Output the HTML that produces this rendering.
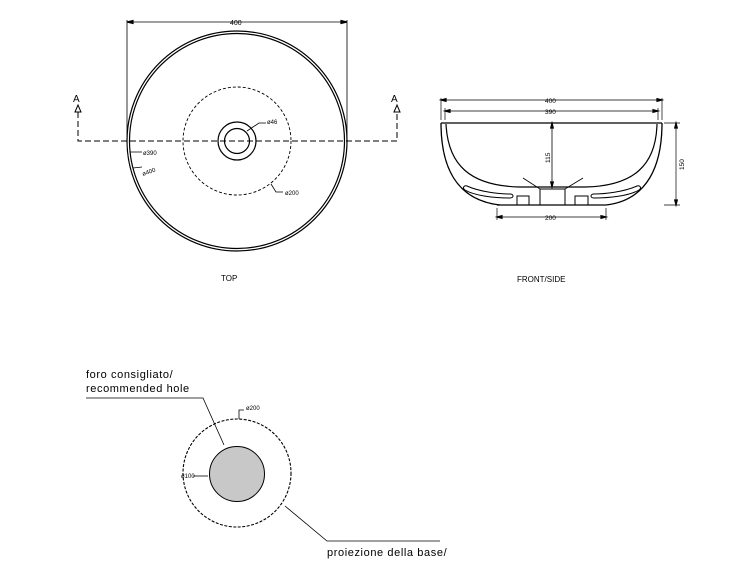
<!DOCTYPE html>
<html><head><meta charset="utf-8"><style>
html,body{margin:0;padding:0;background:#fff;}
svg{display:block;}
text{font-family:"Liberation Sans",sans-serif;fill:#000;}
</style></head><body>
<svg width="750" height="563" viewBox="0 0 750 563" xmlns="http://www.w3.org/2000/svg">
<g fill="none" stroke="#000" stroke-width="1.2">
<circle cx="237" cy="141" r="110"/>
<circle cx="237" cy="141" r="107.5"/>
<circle cx="237" cy="141" r="54" stroke-dasharray="3,2" stroke-width="0.9"/>
<circle cx="237" cy="141" r="19"/>
<circle cx="237" cy="141" r="12.5"/>
<path d="M78,112 V141 H397 V112" stroke-dasharray="6,3" stroke-width="1"/>
<path d="M75,112 L78,105 L81,112 Z" stroke-width="1"/>
<path d="M394,112 L397,105 L400,112 Z" stroke-width="1"/>
<path d="M127,20 V141 M347,20 V141" stroke-width="0.8"/>
<path d="M127,22 H347" stroke-width="0.8"/>
<path d="M127,22 l6,-1.5 v3 z M347,22 l-6,-1.5 v3 z" fill="#000"/>
<path d="M247,131 L259,123 H266" stroke-width="0.8"/>
<path d="M130,152 H142 M133,168 L142,167" stroke-width="0.8"/>
<path d="M271,184 L276,192 H283" stroke-width="0.8"/>
<path d="M441,123 H662" stroke-width="1.3"/>
<path d="M441,123 C441,165 455,200 500,205 M662,123 C662,165 648,200 606,205" stroke-width="1.3"/>
<path d="M446,124 C448,165 470,186 520,187 H585 C634,186 656,165 657,124" stroke-width="1.2"/>
<path d="M497,205 H606" stroke-width="1.3"/>
<path d="M467,186 C480,192 500,194 510,194 C514,194 514,198 510,198 C495,198 475,196 465,190 C462,188 464,185 467,186 Z" stroke-width="1"/>
<path d="M637,186 C624,192 604,194 594,194 C590,194 590,198 594,198 C609,198 629,196 639,190 C642,188 640,185 637,186 Z" stroke-width="1"/>
<path d="M517,205 V196 H529 V205 M540,205 V189 H565 V205 M575,205 V196 H588 V205" stroke-width="1"/>
<path d="M523,178 L540,189 M583,178 L565,189" stroke-width="0.8"/>
<path d="M441,98 V120 M662,98 V120 M445,108 V120 M658,108 V120" stroke-width="0.7"/>
<path d="M441,100 H662 M445,111 H658" stroke-width="0.7"/>
<path d="M441,100 l5,-1.3 v2.6z M662,100 l-5,-1.3 v2.6z M445,111 l5,-1.3 v2.6z M658,111 l-5,-1.3 v2.6z" fill="#000"/>
<path d="M552,123 V187" stroke-width="0.8"/>
<path d="M552,187 l-1.3,-5 h2.6z M552,123 l-1.3,5 h2.6z" fill="#000"/>
<path d="M664,123 H680 M664,205 H680 M676,123 V205" stroke-width="0.7"/>
<path d="M676,123 l-1.3,5 h2.6z M676,205 l-1.3,-5 h2.6z" fill="#000"/>
<path d="M497,208 V220 M606,208 V220 M497,217 H606" stroke-width="0.7"/>
<path d="M497,217 l5,-1.3 v2.6z M606,217 l-5,-1.3 v2.6z" fill="#000"/>
<circle cx="237" cy="473" r="54" stroke-dasharray="3,1.5" stroke-width="1.1"/>
<circle cx="237" cy="474" r="27.5" fill="#c8c8c8" stroke-width="1"/>
<path d="M86,398 H203 L224,445" stroke-width="0.8"/>
<path d="M239,419 V410 H244" stroke-width="0.8"/>
<path d="M193,476 H208" stroke-width="0.8"/>
<path d="M285,506 L327,541 H440" stroke-width="0.8"/>
</g>
<g font-size="6">
<text x="230" y="25" font-size="7">400</text>
<text x="267" y="124">ø46</text>
<text x="143" y="155">ø390</text>
<text x="143" y="176" transform="rotate(-20 143 176)">ø400</text>
<text x="285" y="195">ø200</text>
<text x="545" y="103" font-size="6.5">400</text>
<text x="545" y="114" font-size="6.5">390</text>
<text x="0" y="0" transform="translate(550,163) rotate(-90)" font-size="6.5">115</text>
<text x="0" y="0" transform="translate(684,170) rotate(-90)" font-size="6.5">150</text>
<text x="545" y="220" font-size="6.5">200</text>
<text x="246" y="410">ø200</text>
<text x="181" y="478">ø100</text>
</g>
<text x="73" y="102" font-size="10">A</text>
<text x="391" y="102" font-size="10">A</text>
<text x="221" y="281" font-size="8">TOP</text>
<text x="517" y="282" font-size="8">FRONT/SIDE</text>
<g font-size="11" letter-spacing="0.6">
<text x="86" y="378">foro consigliato/</text>
<text x="86" y="392">recommended hole</text>
<text x="327" y="556">proiezione della base/</text>
</g>
</svg>
</body></html>
